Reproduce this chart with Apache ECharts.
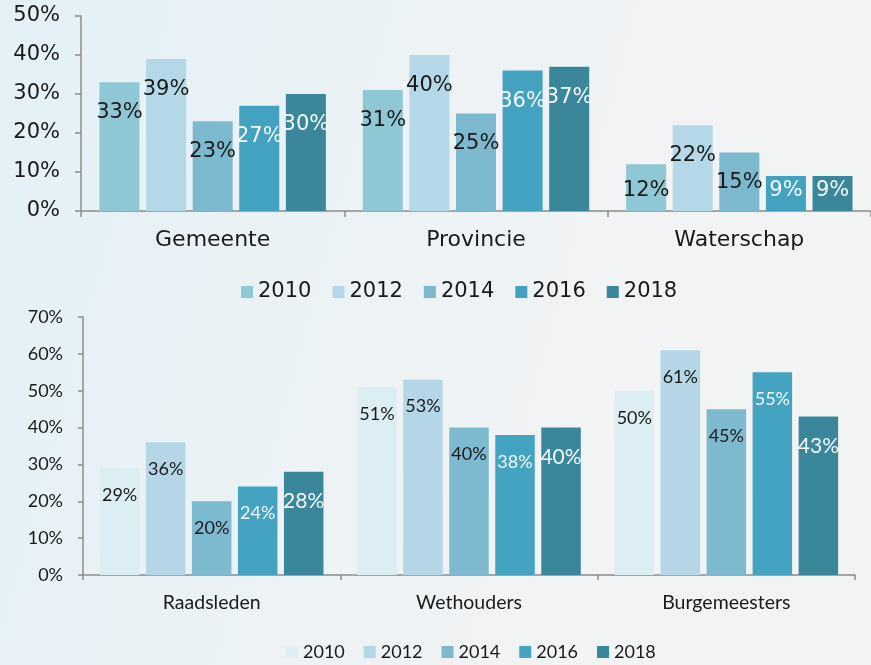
<!DOCTYPE html>
<html>
<head>
<meta charset="utf-8">
<script src="https://cdn.jsdelivr.net/npm/echarts@6/dist/echarts.min.js"></script>
<style>
  html, body { margin: 0; padding: 0; }
  body {
    width: 871px; height: 665px; overflow: hidden; position: relative;
    background: linear-gradient(105deg, #e3f1f7 0%, #ecf2f5 40%, #f2f3f4 70%, #f3f3f3 100%);
  }
  .chart { position: absolute; left: 0; width: 871px; }
</style>
</head>
<body>
<div id="topChart" class="chart" style="top:0;height:310px"></div>
<div id="bottomChart" class="chart" style="top:300px;height:365px"></div>
<script>
  // data
  const years = ['2010', '2012', '2014', '2016', '2018'];

  const topCategories = ['Gemeente', 'Provincie', 'Waterschap'];
  const topTicks = [0, 10, 20, 30, 40, 50];
  const top2010 = [33, 31, 12];
  const top2012 = [39, 40, 22];
  const top2014 = [23, 25, 15];
  const top2016 = [27, 36, 9];
  const top2018 = [30, 37, 9];

  const bottomCategories = ['Raadsleden', 'Wethouders', 'Burgemeesters'];
  const bottomTicks = [0, 10, 20, 30, 40, 50, 60, 70];
  const bottom2010 = [29, 51, 50];
  const bottom2012 = [36, 53, 61];
  const bottom2014 = [20, 40, 45];
  const bottom2016 = [24, 38, 55];
  const bottom2018 = [28, 40, 43];

  const topColors = ['#8fc7d5', '#b5d8e8', '#7cb9cf', '#43a2c0', '#3a879c'];
  const bottomColors = ['#dceef4', '#b5d6e7', '#7dbad0', '#43a3c1', '#3a869b'];
  const axisColor = '#8c8c8c';

  function initTop() {
    const myChart = echarts.init(document.getElementById('topChart'));
    const font = 'DejaVu Sans';
    const values = [top2010, top2012, top2014, top2016, top2018];
    const series = values.map((vals, i) => ({
      name: years[i],
      type: 'bar',
      barWidth: 40,
      barGap: '16.5%',
      // short bars: label sits in the middle instead of near the top
      data: vals.map((v) => (v < 13 ? { value: v, label: { position: 'inside', offset: [0, v < 10 ? -3 : 3] } } : v)),
      itemStyle: { color: topColors[i] },
      label: {
        show: true,
        position: 'insideTop',
        distance: 20,
        formatter: '{c}%',
        fontFamily: font,
        fontSize: 21,
        color: i < 3 ? '#1a1a1a' : '#f4fafc',
      },
    }));
    myChart.setOption({
      animation: false,
      textStyle: { fontFamily: font },
      grid: { left: 81, top: 16, width: 792, height: 195 },
      legend: {
        data: years,
        left: 236,
        top: 276,
        itemWidth: 12,
        itemHeight: 12,
        itemGap: 21,
        icon: 'rect',
        textStyle: { fontFamily: font, fontSize: 21, color: '#1a1a1a', lineHeight: 22 },
      },
      xAxis: {
        type: 'category',
        data: topCategories,
        axisLine: { lineStyle: { color: axisColor, width: 1.5 } },
        axisTick: { show: true, length: 6, lineStyle: { color: axisColor, width: 1.5 } },
        axisLabel: { fontFamily: font, fontSize: 22, color: '#1a1a1a', margin: 18 },
      },
      yAxis: {
        type: 'value',
        min: topTicks[0],
        max: topTicks[topTicks.length - 1],
        interval: 10,
        axisLine: { show: true, lineStyle: { color: axisColor, width: 1.5 } },
        axisTick: { show: true, length: 6, lineStyle: { color: axisColor, width: 1.5 } },
        splitLine: { show: false },
        axisLabel: { fontFamily: font, fontSize: 21, color: '#1a1a1a', margin: 21, formatter: '{value}%' },
      },
      series,
    });
  }

  function initBottom() {
    const myChart = echarts.init(document.getElementById('bottomChart'));
    const font = 'Lato';
    const values = [bottom2010, bottom2012, bottom2014, bottom2016, bottom2018];
    const series = values.map((vals, i) => ({
      name: years[i],
      type: 'bar',
      barWidth: 39.5,
      barGap: '16.5%',
      data: vals,
      itemStyle: { color: bottomColors[i] },
      label: {
        show: true,
        position: 'insideTop',
        distance: i === 4 ? 19 : 18,
        formatter: '{c}%',
        fontFamily: font,
        fontSize: i === 4 ? 21 : 18,
        color: i < 3 ? '#1a1a1a' : '#f4fafc',
      },
    }));
    myChart.setOption({
      animation: false,
      textStyle: { fontFamily: font },
      grid: { left: 83, top: 17, width: 772, height: 258 },
      legend: {
        data: years,
        left: 281,
        top: 338,
        itemWidth: 12,
        itemHeight: 12,
        itemGap: 19,
        icon: 'rect',
        textStyle: { fontFamily: font, fontSize: 18, color: '#1a1a1a', lineHeight: 18 },
      },
      xAxis: {
        type: 'category',
        data: bottomCategories,
        axisLine: { lineStyle: { color: axisColor, width: 1.5 } },
        axisTick: { show: true, length: 5, lineStyle: { color: axisColor, width: 1.5 } },
        axisLabel: { fontFamily: font, fontSize: 19.5, color: '#1a1a1a', margin: 18 },
      },
      yAxis: {
        type: 'value',
        min: bottomTicks[0],
        max: bottomTicks[bottomTicks.length - 1],
        interval: 10,
        axisLine: { show: true, lineStyle: { color: axisColor, width: 1.5 } },
        axisTick: { show: true, length: 5, lineStyle: { color: axisColor, width: 1.5 } },
        splitLine: { show: false },
        axisLabel: { fontFamily: font, fontSize: 18, color: '#1a1a1a', margin: 20, formatter: '{value}%' },
      },
      series,
    });
  }

  initTop();
  initBottom();
</script>
</body>
</html>
